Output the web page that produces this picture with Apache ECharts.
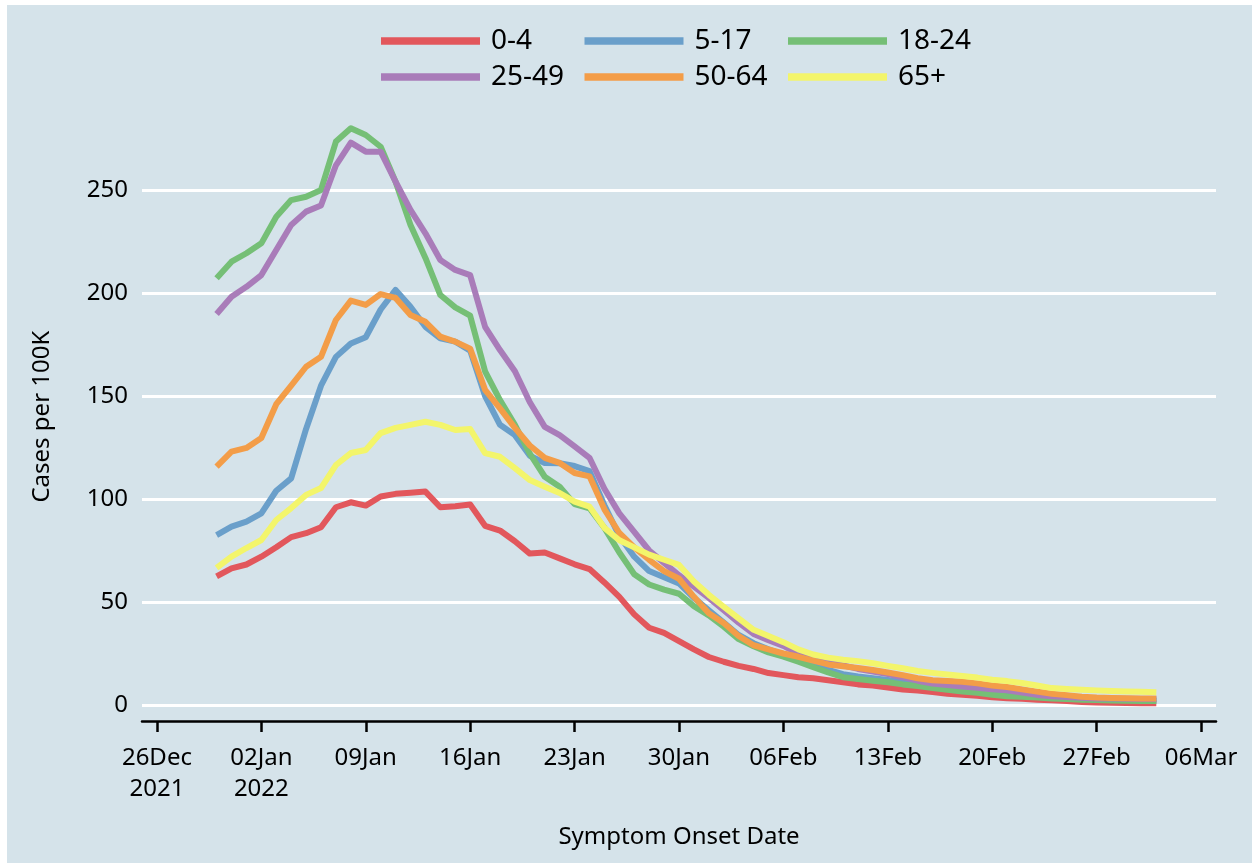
<!DOCTYPE html>
<html>
<head>
<meta charset="utf-8">
<script src="https://cdn.jsdelivr.net/npm/echarts@6/dist/echarts.min.js"></script>
<style>
  html, body { margin: 0; padding: 0; background: #ffffff; width: 1252px; height: 863px; overflow: hidden; }
  #chart { position: absolute; left: 7px; top: 5px; width: 1245px; height: 858px; }
</style>
</head>
<body>
<div id="chart"></div>
<script>
// Symptom onset dates: daily from 30 Dec 2021 to 03 Mar 2022 (axis origin = 26 Dec 2021)
const axisOrigin = '2021-12-26';
const firstDate = '2021-12-30';
const nDays = 64;

const tickDays = [0, 7, 14, 21, 28, 35, 42, 49, 56, 63, 70];
const tickLabels = ['26Dec\n2021', '02Jan\n2022', '09Jan', '16Jan', '23Jan', '30Jan', '06Feb', '13Feb', '20Feb', '27Feb', '06Mar'];

const seriesNames = ['0-4', '5-17', '18-24', '25-49', '50-64', '65+'];
const seriesColors = ['#e2575c', '#6a9fca', '#75bf76', '#a97cb9', '#f39d48', '#f3f56b'];

const age0_4 = [
  62.4, 66.3, 68.2, 72, 76.6, 81.5, 83.4, 86.3, 96, 98.4,
  96.8, 101.2, 102.5, 103, 103.6, 96, 96.5, 97.3, 87, 84.7,
  79.5, 73.5, 74, 71.2, 68.3, 66, 59.5, 52.5, 44, 37.5,
  35, 31, 27, 23.3, 21, 19, 17.5, 15.5, 14.5, 13.5,
  13, 12, 11, 10, 9.5, 8.5, 7.5, 7, 6.3, 5.5,
  5, 4.5, 3.8, 3.3, 3, 2.6, 2.3, 1.9, 1.5, 1.2,
  1.1, 1, 0.9, 0.8
];
const age5_17 = [
  82.5, 86.6, 89, 93, 104, 110, 134, 155, 169, 175.5,
  178.5, 192, 201.5, 193.3, 183.6, 178, 176.4, 172, 150, 136,
  131, 121, 117.5, 117.4, 116, 113.5, 97, 82, 72, 65,
  62, 59, 52, 46, 40, 34, 30, 27, 24.5, 22,
  20, 17, 15, 13.8, 13, 12.2, 11.2, 10.2, 9.3, 8.5,
  7.8, 7, 6.2, 5.5, 4.8, 4.2, 3.7, 3.3, 3, 2.8,
  2.6, 2.5, 2.4, 2.3
];
const age18_24 = [
  207.1, 215.2, 219.3, 224.1, 237, 245.1, 246.7, 250, 273.5, 280,
  276.7, 271, 254, 233, 217, 199, 193, 189, 162, 148,
  136, 122, 110.8, 106, 97.5, 95.5, 86, 74, 63.5, 58.5,
  56, 54, 48, 43.5, 38, 32, 28.5, 25.5, 23.5, 21,
  18.4, 15.8, 13.5, 12.6, 11.8, 11, 10, 9.2, 8.3, 7.4,
  6.6, 5.9, 5, 4.3, 4, 3.6, 3.2, 2.9, 2.6, 2.4,
  2.2, 2.1, 2, 1.9
];
const age25_49 = [
  189.8, 198.2, 203, 208.7, 220.9, 233, 239.5, 242.5, 262, 273,
  268.6, 268.6, 254, 240.3, 229, 216, 211.2, 208.7, 183.6, 172.3,
  162, 147, 135, 131, 125.5, 120, 105, 93, 84, 75,
  69, 63, 57.5, 52, 46, 40, 34.5, 31.5, 28.7, 25,
  22.8, 21, 19.2, 17.5, 16.2, 15, 13.5, 11.8, 10.4, 9.7,
  9, 8.4, 7.6, 7.1, 6, 4.9, 4.2, 3.9, 3.5, 3.2,
  3.1, 3, 2.9, 2.9
];
const age50_64 = [
  115.7, 123, 124.8, 129.6, 146, 155, 164.2, 169, 186.9, 196.3,
  194.2, 199.5, 197.6, 189.3, 186, 178.8, 176.4, 173, 153, 144,
  134.5, 126, 120, 117.5, 112.6, 111, 95, 83.5, 76.5, 70.5,
  65, 61.3, 52.5, 44.5, 39.8, 33.5, 29, 27, 25, 23.4,
  21.5, 19.7, 18.8, 18, 17, 15.8, 14.5, 13, 12, 11.7,
  11.3, 10.5, 9.5, 8.7, 7.6, 6.5, 5.5, 4.8, 4, 3.6,
  3.4, 3.3, 3.2, 3.1
];
const age65plus = [
  66.6, 72, 76.2, 80.1, 89.8, 95.6, 102, 105.3, 116.5, 122.3,
  123.8, 132, 134.5, 136, 137.5, 136, 133.5, 134, 122.3, 120.5,
  115, 109.2, 106, 102.9, 98.7, 96.3, 86, 80, 76.5, 73,
  70.5, 68, 60, 53.5, 47.7, 42, 36.5, 33.5, 30.5, 27,
  24.5, 23, 22, 21.3, 20.3, 19, 17.8, 16.5, 15.6, 14.8,
  14.1, 13.3, 12.3, 11.6, 10.7, 9.5, 8.2, 7.8, 7.4, 7.1,
  6.8, 6.6, 6.4, 6.2
];

const allValues = [age0_4, age5_17, age18_24, age25_49, age50_64, age65plus];

const DAY = 86400000;
const originMs = Date.parse(axisOrigin + 'T00:00:00Z');
const firstMs = Date.parse(firstDate + 'T00:00:00Z');
const firstOffset = Math.round((firstMs - originMs) / DAY);
const dayOffsets = [];
for (let i = 0; i < nDays; i++) dayOffsets.push(firstOffset + i);

const FONT = 'Noto Sans';

const series = seriesNames.map((name, k) => ({
  name: name,
  type: 'line',
  data: dayOffsets.map((d, i) => [d, allValues[k][i]]),
  showSymbol: false,
  symbol: 'none',
  clip: false,
  smooth: false,
  color: seriesColors[k],
  lineStyle: { width: 6, color: seriesColors[k], cap: 'butt', join: 'round' },
  z: 2 + k
}));

function legendRow(names, top) {
  return {
    data: names,
    left: 374,
    top: top,
    orient: 'horizontal',
    icon: 'rect',
    itemWidth: 99,
    itemHeight: 7.5,
    itemGap: 13.5,
    padding: 0,
    selectedMode: false,
    textStyle: {
      fontFamily: FONT, fontSize: 28, color: '#000', lineHeight: 30,
      width: 80, overflow: 'none', padding: [0, 0, 0, 6]
    }
  };
}

const chart = echarts.init(document.getElementById('chart'), null, { renderer: 'canvas' });
chart.setOption({
  animation: false,
  backgroundColor: '#d5e3ea',
  textStyle: { fontFamily: FONT },
  legend: [legendRow(seriesNames.slice(0, 3), 21), legendRow(seriesNames.slice(3), 57)],
  grid: { left: 135, right: 36, top: 123.2, bottom: 158, containLabel: false },
  xAxis: {
    type: 'value',
    min: -1,
    max: 71,
    offset: 16,
    name: 'Symptom Onset Date',
    nameLocation: 'middle',
    nameGap: 102,
    nameTextStyle: { fontFamily: FONT, fontSize: 24, color: '#000', lineHeight: 28 },
    axisLine: { show: true, onZero: false, lineStyle: { color: '#000', width: 2.5 } },
    axisTick: { show: true, length: 11, customValues: tickDays, lineStyle: { color: '#000', width: 2.5 } },
    axisLabel: {
      customValues: tickDays,
      margin: 22,
      fontFamily: FONT, fontSize: 24, color: '#000', lineHeight: 31,
      formatter: v => tickLabels[tickDays.indexOf(v)] || ''
    },
    splitLine: { show: false }
  },
  yAxis: {
    type: 'value',
    min: 0,
    max: 280,
    interval: 50,
    name: 'Cases per 100K',
    nameLocation: 'middle',
    nameGap: 86,
    nameTextStyle: { fontFamily: FONT, fontSize: 24, color: '#000', lineHeight: 28 },
    axisLine: { show: false },
    axisTick: { show: false },
    axisLabel: { margin: 14, fontFamily: FONT, fontSize: 24, color: '#000', showMaxLabel: false },
    splitLine: { show: true, showMaxLine: false, lineStyle: { color: '#ffffff', width: 3 } }
  },
  series: series
});
</script>
</body>
</html>
